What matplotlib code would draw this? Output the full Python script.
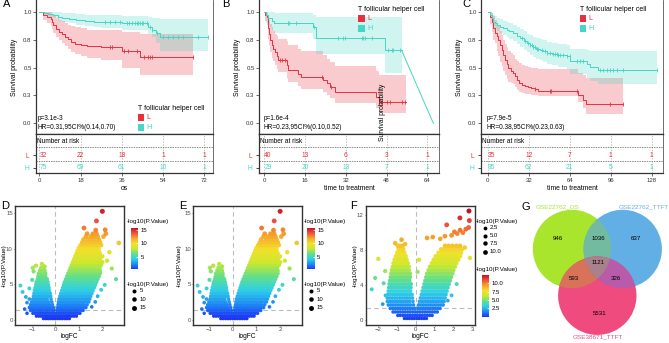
import numpy as np
import matplotlib
matplotlib.use('Agg')
import matplotlib.pyplot as plt
from matplotlib.colors import LinearSegmentedColormap, Normalize
from matplotlib.cm import ScalarMappable
from matplotlib.patches import Circle, Rectangle, Polygon

plt.rcParams['font.family'] = ['Liberation Sans', 'DejaVu Sans']

# =============================================================================
# Kaplan-Meier data (time, survival, 95% band)
# =============================================================================
# A: os
a_l_time = [0, 1.5, 3.5, 5, 5.5, 6, 7.5, 8.5, 10, 11, 12.5, 14, 15.5, 18, 21, 27, 36, 44]
a_l_surv = [1.0, 0.97, 0.95, 0.935, 0.91, 0.88, 0.845, 0.82, 0.80, 0.775, 0.755, 0.73, 0.715, 0.70, 0.69, 0.685, 0.65, 0.595]
a_l_low = [1.0, 0.93, 0.9, 0.875, 0.845, 0.81, 0.77, 0.745, 0.72, 0.69, 0.665, 0.64, 0.625, 0.605, 0.585, 0.565, 0.50, 0.43]
a_l_high = [1.0, 1.0, 1.0, 0.995, 0.98, 0.965, 0.945, 0.93, 0.915, 0.90, 0.885, 0.87, 0.86, 0.85, 0.84, 0.835, 0.815, 0.80]
a_l_end = 67
a_l_cens = [31, 31.8, 37, 38.5, 42.5, 45.5, 47.5, 48.5, 49, 67]
a_h_time = [0, 2, 4, 6, 8, 10, 13, 16, 20, 24, 27, 36, 47.5, 49, 51, 52.5]
a_h_surv = [1.0, 0.99, 0.98, 0.97, 0.955, 0.945, 0.935, 0.925, 0.915, 0.91, 0.905, 0.895, 0.865, 0.84, 0.805, 0.775]
a_h_low = [1.0, 0.97, 0.955, 0.94, 0.92, 0.91, 0.895, 0.88, 0.87, 0.86, 0.855, 0.84, 0.80, 0.77, 0.72, 0.645]
a_h_high = [1.0, 1.0, 1.0, 1.0, 0.995, 0.99, 0.985, 0.98, 0.975, 0.97, 0.97, 0.965, 0.955, 0.945, 0.94, 0.935]
a_h_end = 73.7
a_h_cens = [28.7, 30.8, 33, 35.2, 38.1, 39, 40.4, 41.8, 42.5, 43.2, 44, 44.7, 45.4, 46.9, 48.3, 49,
            51.2, 54.1, 56.3, 58.5, 60.7, 62.8, 69.4, 73.7]
a_ticks = [0, 18, 36, 54, 72]
a_risk_l = [32, 22, 18, 1, 1]
a_risk_h = [75, 69, 61, 10, 1]

# B: time to treatment
b_l_time = [0, 0.3, 0.9, 1.3, 1.6, 2.0, 2.3, 2.9, 3.5, 4.2, 5.0, 5.5, 8.8, 9.4, 13.4, 14.5, 23.2, 24.5, 25.8, 27.8, 44, 45]
b_l_surv = [1.0, 0.975, 0.95, 0.90, 0.85, 0.80, 0.75, 0.70, 0.67, 0.635, 0.60, 0.57, 0.52, 0.48, 0.445, 0.415, 0.39, 0.36, 0.33, 0.28, 0.24, 0.195]
b_l_low = [1.0, 0.92, 0.88, 0.82, 0.76, 0.70, 0.64, 0.59, 0.555, 0.52, 0.49, 0.46, 0.41, 0.37, 0.335, 0.31, 0.28, 0.25, 0.225, 0.18, 0.14, 0.09]
b_l_high = [1.0, 1.0, 1.0, 0.99, 0.96, 0.93, 0.89, 0.86, 0.83, 0.80, 0.78, 0.76, 0.735, 0.70, 0.67, 0.645, 0.61, 0.58, 0.55, 0.51, 0.47, 0.43]
b_l_end = 55.5
b_l_cens = [6.3, 7.0, 8.1, 22.5, 26.2, 45.2, 46, 48, 49.4, 53.9, 55.3]
b_h_time = [0, 0.5, 1.5, 3, 4, 19.2, 20.2, 47.4]
b_h_surv = [1.0, 0.97, 0.945, 0.92, 0.90, 0.86, 0.765, 0.655]
b_h_low = [1.0, 0.9, 0.86, 0.83, 0.81, 0.76, 0.62, 0.455]
b_h_high = [1.0, 1.0, 1.0, 1.0, 0.99, 0.975, 0.955, 0.955]
b_h_end = 53.9
b_h_tail_time = 66.4
b_h_tail_surv = 0.0
b_h_cens = [9.2, 9.8, 12.5, 19.5, 29.1, 31, 31.7, 38.2, 38.9, 39.5, 42.1, 48.7, 50, 50.7, 53.4]
b_ticks = [0, 16, 32, 48, 64]
b_risk_l = [40, 13, 6, 3, 1]
b_risk_h = [29, 20, 13, 7, 1]

# C: time to treatment
c_l_time = [0, 1.8, 3.1, 4.4, 5.7, 7, 8.3, 9.6, 10.9, 12.2, 13.5, 14.8, 16.1, 18, 20, 21.3, 22.6, 24.5, 26.5, 29,
            31.7, 34, 36.9, 39.5, 70.5, 74, 77]
c_l_surv = [1.0, 0.955, 0.91, 0.85, 0.81, 0.78, 0.745, 0.70, 0.66, 0.615, 0.57, 0.53, 0.495, 0.47, 0.45, 0.42, 0.39,
            0.365, 0.345, 0.335, 0.325, 0.315, 0.305, 0.29, 0.25, 0.21, 0.175]
c_l_low = [1.0, 0.89, 0.82, 0.75, 0.72, 0.65, 0.60, 0.55, 0.51, 0.47, 0.43, 0.40, 0.375, 0.36, 0.35, 0.33, 0.30,
           0.285, 0.27, 0.265, 0.26, 0.255, 0.25, 0.245, 0.19, 0.14, 0.085]
c_l_high = [1.0, 1.0, 0.99, 0.96, 0.93, 0.90, 0.87, 0.83, 0.79, 0.75, 0.71, 0.68, 0.65, 0.63, 0.61, 0.58, 0.56,
            0.54, 0.52, 0.51, 0.505, 0.50, 0.495, 0.49, 0.45, 0.43, 0.41]
c_l_end = 105.4
c_l_cens = [37, 48.5, 49.5, 69.5, 95.5, 105.4]
c_h_time = [0, 1.5, 3, 4.4, 6, 7.5, 9.6, 12, 14.8, 17, 20, 22.5, 25.2, 28, 30.4, 33, 35.6, 38, 40.8, 43, 46, 50,
            55, 61.7, 64.3, 77.3, 80, 86.3]
c_h_surv = [1.0, 0.97, 0.94, 0.91, 0.895, 0.88, 0.867, 0.85, 0.837, 0.825, 0.808, 0.785, 0.763, 0.74, 0.719, 0.70,
            0.684, 0.67, 0.659, 0.645, 0.63, 0.62, 0.61, 0.60, 0.555, 0.53, 0.505, 0.475]
c_h_low = [1.0, 0.94, 0.905, 0.87, 0.85, 0.83, 0.81, 0.79, 0.77, 0.755, 0.735, 0.71, 0.685, 0.66, 0.635, 0.615,
           0.595, 0.58, 0.565, 0.55, 0.535, 0.52, 0.505, 0.49, 0.44, 0.41, 0.38, 0.35]
c_h_high = [1.0, 1.0, 0.99, 0.97, 0.96, 0.945, 0.935, 0.92, 0.91, 0.90, 0.885, 0.865, 0.845, 0.825, 0.805, 0.79,
            0.775, 0.765, 0.755, 0.745, 0.73, 0.72, 0.71, 0.70, 0.67, 0.655, 0.65, 0.645]
c_h_end = 131.9
c_h_cens = [26.5, 29.1, 31.7, 33.0, 34.3, 35.6, 36.9, 38.2, 39.5, 42.2, 44.7, 46.1, 48.6, 51.2, 52.5, 53.9, 55.1,
            56.4, 59.0, 61.7, 64.2, 69.5, 72, 74.6, 87.7, 90.2, 92.9, 95.5, 98.0, 100.7, 105.9, 131.9]
c_ticks = [0, 32, 64, 96, 128]
c_risk_l = [35, 12, 7, 1, 1]
c_risk_h = [95, 62, 21, 5, 1]

# =============================================================================
# Volcano data (logFC, -log10 P), rows of points
# D and E show the same genes
# =============================================================================
d_row_y = [0.15, 0.5, 0.9, 1.3, 1.7, 2.1, 2.5, 2.9, 3.3, 3.7, 4.1, 4.5, 4.9, 5.3, 5.7, 6.1, 6.5, 6.9, 7.3,
           7.7, 8.1, 8.5, 8.9, 9.3, 9.7, 10.1, 10.5, 10.9, 11.3, 11.7, 12.1]
d_row_x = [
    [-0.5, -0.4, -0.3, -0.2, -0.1, 0, 0.1, 0.2, 0.3, 0.4, 0.5, 0.6],
    [-0.8, -0.7, -0.6, -0.5, -0.4, -0.3, -0.2, -0.1, 0, 0.1, 0.2, 0.3, 0.4, 0.5, 0.6, 0.7, 0.8, 0.9],
    [-0.95, -0.85, -0.75, -0.65, -0.55, -0.45, -0.35, -0.25, -0.15, -0.05, 0.05, 0.15, 0.25, 0.35, 0.45, 0.55,
     0.65, 0.75, 0.85, 0.95, 1.05],
    [-1.05, -0.95, -0.85, -0.75, -0.65, -0.55, -0.45, -0.35, -0.25, -0.15, -0.05, 0.08, 0.18, 0.28, 0.38, 0.48,
     0.58, 0.68, 0.78, 0.88, 0.98, 1.08, 1.18],
    [-1.1, -1.0, -0.9, -0.8, -0.7, -0.6, -0.5, -0.4, -0.3, -0.2, -0.08, 0.1, 0.2, 0.3, 0.4, 0.5, 0.6, 0.7, 0.8,
     0.9, 1.0, 1.1, 1.2, 1.3],
    [-1.05, -0.95, -0.85, -0.75, -0.65, -0.55, -0.45, -0.35, -0.25, -0.12, 0.12, 0.22, 0.32, 0.42, 0.52, 0.62,
     0.72, 0.82, 0.92, 1.02, 1.12, 1.22, 1.35],
    [-1.0, -0.9, -0.8, -0.7, -0.6, -0.5, -0.4, -0.3, -0.15, 0.14, 0.24, 0.34, 0.44, 0.54, 0.64, 0.74, 0.84,
     0.94, 1.04, 1.14, 1.24, 1.34, 1.42],
    [-1.1, -0.95, -0.85, -0.75, -0.65, -0.55, -0.45, -0.35, -0.18, 0.16, 0.26, 0.36, 0.46, 0.56, 0.66, 0.76,
     0.86, 0.96, 1.06, 1.16, 1.26, 1.36, 1.46],
    [-0.92, -0.82, -0.72, -0.62, -0.52, -0.42, -0.3, -0.2, 0.2, 0.3, 0.4, 0.5, 0.6, 0.7, 0.8, 0.9, 1.0, 1.1,
     1.2, 1.3, 1.4, 1.5],
    [-0.9, -0.8, -0.7, -0.6, -0.5, -0.4, -0.3, -0.22, 0.24, 0.34, 0.44, 0.54, 0.64, 0.74, 0.84, 0.94, 1.04,
     1.14, 1.24, 1.34, 1.44, 1.55],
    [-0.88, -0.78, -0.68, -0.58, -0.48, -0.38, -0.26, 0.28, 0.38, 0.48, 0.58, 0.68, 0.78, 0.88, 0.98, 1.08,
     1.18, 1.28, 1.38, 1.48, 1.6],
    [-0.85, -0.75, -0.65, -0.55, -0.45, -0.35, -0.27, 0.32, 0.42, 0.52, 0.62, 0.72, 0.82, 0.92, 1.02, 1.12,
     1.22, 1.32, 1.42, 1.52, 1.65],
    [-0.82, -0.72, -0.62, -0.52, -0.42, -0.3, 0.36, 0.46, 0.56, 0.66, 0.76, 0.86, 0.96, 1.06, 1.16, 1.26,
     1.36, 1.46, 1.56, 1.7],
    [-0.8, -0.7, -0.6, -0.5, -0.4, -0.32, 0.4, 0.5, 0.6, 0.7, 0.8, 0.9, 1.0, 1.1, 1.2, 1.3, 1.4, 1.5, 1.6, 1.75],
    [-0.75, -0.65, -0.55, -0.45, -0.35, 0.45, 0.55, 0.65, 0.75, 0.85, 0.95, 1.05, 1.15, 1.25, 1.35, 1.45,
     1.55, 1.65, 1.8],
    [-0.72, -0.62, -0.52, -0.42, 0.5, 0.6, 0.7, 0.8, 0.9, 1.0, 1.1, 1.2, 1.3, 1.4, 1.5, 1.6, 1.7, 1.85],
    [-0.7, -0.6, -0.5, -0.42, 0.55, 0.65, 0.75, 0.85, 0.95, 1.05, 1.15, 1.25, 1.35, 1.45, 1.55, 1.65, 1.75, 1.9],
    [-0.65, -0.55, -0.45, 0.6, 0.7, 0.8, 0.9, 1.0, 1.1, 1.2, 1.3, 1.4, 1.5, 1.6, 1.7, 1.8, 1.9],
    [-0.6, -0.48, 0.65, 0.75, 0.85, 0.95, 1.05, 1.15, 1.25, 1.35, 1.45, 1.55, 1.65, 1.75, 1.88],
    [0.7, 0.8, 0.9, 1.0, 1.1, 1.2, 1.3, 1.4, 1.5, 1.6, 1.7, 1.8, 1.95],
    [0.75, 0.85, 0.95, 1.05, 1.15, 1.25, 1.35, 1.45, 1.55, 1.65, 1.75, 1.85, 2.0],
    [0.8, 0.9, 1.0, 1.1, 1.2, 1.3, 1.4, 1.5, 1.6, 1.7, 1.8, 1.9],
    [0.85, 0.95, 1.05, 1.15, 1.25, 1.35, 1.45, 1.55, 1.65, 1.75, 1.85, 2.0],
    [0.9, 1.0, 1.1, 1.2, 1.3, 1.4, 1.5, 1.6, 1.7, 1.8, 1.9],
    [0.95, 1.05, 1.15, 1.25, 1.35, 1.45, 1.55, 1.65, 1.75, 1.85],
    [1.0, 1.12, 1.24, 1.36, 1.48, 1.6, 1.72, 1.84],
    [1.08, 1.22, 1.36, 1.5, 1.64, 1.78, 1.95],
    [1.15, 1.3, 1.45, 1.6, 1.75, 1.9],
    [1.2, 1.4, 1.55, 1.7, 1.85],
    [1.3, 1.5, 1.65, 1.8, 2.05],
    [1.35, 1.6, 1.75, 2.15],
]
d_extra_x = [1.22, 1.72, 2.12, 1.75, 2.0, 2.7, 2.3, 2.2, 2.4, 2.58, 2.1, 1.8, 1.95, 1.7, 1.55,
             -1.48, -1.39, -1.25, -1.2, -1.1, -0.98, -0.92, -0.96, -0.82, -0.57, -0.45, -1.3, -1.2]
d_extra_y = [12.9, 12.6, 12.65, 13.9, 15.25, 10.8, 9.5, 8.3, 7.2, 5.7, 4.9, 3.3, 4.2, 2.5, 1.8,
             4.8, 3.9, 3.2, 2.4, 4.4, 5.6, 6.8, 7.3, 7.6, 7.85, 7.5, 1.5, 0.9]

f_row_y = [0.15, 0.5, 0.9, 1.3, 1.7, 2.1, 2.5, 2.9, 3.3, 3.7, 4.1, 4.5, 4.9, 5.3, 5.7, 6.1, 6.5, 6.9, 7.3,
           7.7, 8.1, 8.5]
f_row_x = [
    [-0.6, -0.47, -0.34, -0.21, -0.08, 0.05, 0.18, 0.31, 0.44, 0.57],
    [-0.95, -0.82, -0.69, -0.56, -0.43, -0.3, -0.17, -0.04, 0.09, 0.22, 0.35, 0.48, 0.61, 0.74, 0.87],
    [-1.2, -1.07, -0.94, -0.81, -0.68, -0.55, -0.42, -0.29, -0.16, -0.03, 0.1, 0.23, 0.36, 0.49, 0.62, 0.75,
     0.88, 1.01, 1.14],
    [-1.35, -1.22, -1.09, -0.96, -0.83, -0.7, -0.57, -0.44, -0.31, -0.18, -0.05, 0.12, 0.25, 0.38, 0.51, 0.64,
     0.77, 0.9, 1.03, 1.16, 1.29],
    [-1.45, -1.32, -1.19, -1.06, -0.93, -0.8, -0.67, -0.54, -0.41, -0.28, -0.12, 0.15, 0.28, 0.41, 0.54, 0.67,
     0.8, 0.93, 1.06, 1.19, 1.32, 1.45],
    [-1.5, -1.37, -1.24, -1.11, -0.98, -0.85, -0.72, -0.59, -0.46, -0.33, -0.15, 0.2, 0.33, 0.46, 0.59, 0.72,
     0.85, 0.98, 1.11, 1.24, 1.37, 1.5],
    [-1.5, -1.37, -1.24, -1.11, -0.98, -0.85, -0.72, -0.59, -0.46, -0.33, -0.18, 0.25, 0.38, 0.51, 0.64, 0.77,
     0.9, 1.03, 1.16, 1.29, 1.42, 1.55],
    [-1.48, -1.35, -1.22, -1.09, -0.96, -0.83, -0.7, -0.57, -0.44, -0.3, -0.2, 0.3, 0.43, 0.56, 0.69, 0.82,
     0.95, 1.08, 1.21, 1.34, 1.47, 1.6],
    [-1.45, -1.32, -1.19, -1.06, -0.93, -0.8, -0.67, -0.54, -0.41, -0.28, 0.35, 0.48, 0.61, 0.74, 0.87, 1.0,
     1.13, 1.26, 1.39, 1.52, 1.65],
    [-1.42, -1.29, -1.16, -1.03, -0.9, -0.77, -0.64, -0.51, -0.38, -0.26, 0.4, 0.53, 0.66, 0.79, 0.92, 1.05,
     1.18, 1.31, 1.44, 1.57, 1.7],
    [-1.4, -1.27, -1.14, -1.01, -0.88, -0.75, -0.62, -0.49, -0.36, -0.25, 0.45, 0.58, 0.71, 0.84, 0.97, 1.1,
     1.23, 1.36, 1.49, 1.62, 1.76],
    [-1.37, -1.24, -1.11, -0.98, -0.85, -0.72, -0.59, -0.46, -0.33, 0.5, 0.63, 0.76, 0.89, 1.02, 1.15, 1.28,
     1.41, 1.54, 1.67, 1.82],
    [-1.33, -1.2, -1.07, -0.94, -0.81, -0.68, -0.55, -0.42, -0.3, 0.55, 0.68, 0.81, 0.94, 1.07, 1.2, 1.33,
     1.46, 1.59, 1.72, 1.88],
    [-1.3, -1.17, -1.04, -0.91, -0.78, -0.65, -0.52, -0.39, -0.3, 0.6, 0.73, 0.86, 0.99, 1.12, 1.25, 1.38,
     1.51, 1.64, 1.77, 1.95],
    [-1.27, -1.14, -1.01, -0.88, -0.75, -0.62, -0.49, -0.36, 0.68, 0.81, 0.94, 1.07, 1.2, 1.33, 1.46, 1.59,
     1.72, 1.85, 2.0],
    [-1.22, -1.09, -0.96, -0.83, -0.7, -0.57, -0.44, -0.36, 0.75, 0.88, 1.01, 1.14, 1.27, 1.4, 1.53, 1.66,
     1.79, 1.92, 2.08],
    [-1.18, -1.05, -0.92, -0.79, -0.66, -0.53, -0.42, 0.85, 0.98, 1.11, 1.24, 1.37, 1.5, 1.63, 1.76, 1.89,
     2.02, 2.15],
    [-1.12, -0.99, -0.86, -0.73, -0.6, -0.48, 0.95, 1.08, 1.21, 1.34, 1.47, 1.6, 1.73, 1.86, 1.99, 2.12, 2.25],
    [-1.05, -0.92, -0.79, -0.66, -0.53, 1.05, 1.18, 1.31, 1.44, 1.57, 1.7, 1.83, 1.96, 2.09, 2.22, 2.35],
    [-0.98, -0.85, -0.72, -0.6, 1.2, 1.35, 1.5, 1.65, 1.8, 1.95, 2.1, 2.25, 2.4],
    [-0.9, -0.78, -0.66, 1.35, 1.5, 1.65, 1.8, 1.95, 2.1, 2.25, 2.45],
    [-0.85, -0.7, 1.55, 1.75, 1.95, 2.15, 2.35],
]
f_extra_x = [-0.75, -0.56, -1.09, -0.95, 0.17, 0.6, 0.9, 1.64, 1.9, 2.05, 2.2, 2.35, 2.5, 2.65, 2.8, 2.34,
             2.84, 2.82, 1.3, 1.55, -2.33, -2.15, -1.98, -1.7, -1.6, -1.75, -1.62, 2.17, 2.87, 2.6, 1.9, 1.7, 0.1]
f_extra_y = [9.2, 8.7, 8.8, 8.5, 6.9, 9.4, 9.5, 10.9, 9.7, 10.1, 9.9, 10.3, 10.0, 10.4, 10.6, 11.7,
             11.4, 12.5, 9.3, 9.6, 3.5, 4.8, 7.0, 4.2, 2.8, 1.8, 5.6, 4.1, 7.1, 8.3, 2.8, 2.2, 5.5]

# =============================================================================
# Venn data
# =============================================================================
venn_names = ['GSE22762_OS', 'GSE22762_TTFT', 'GSE38671_TTFT']
venn_only = [946, 637, 5531]          # OS only, TTFT(22762) only, TTFT(38671) only
venn_pairs = [1036, 593, 326]         # OS&22762TTFT, OS&38671, 22762TTFT&38671
venn_all = 1121

# =============================================================================
W, H = 669, 343
RED = '#E8303F'
CYAN = '#45D6C6'
DARK = '#333333'

fig = plt.figure(figsize=(W / 100, H / 100), dpi=100)


def px_axes(l, t, r, b):
    return fig.add_axes([l / W, 1 - b / H, (r - l) / W, (b - t) / H])


def draw_curve(ax, t, s, lo, hi, end, cens, col):
    te = list(t) + [end]
    ax.fill_between(te, list(lo) + [lo[-1]], list(hi) + [hi[-1]], step='post',
                    color=col, alpha=0.25, lw=0)
    ax.step(te, list(s) + [s[-1]], where='post', color=col, lw=0.7)
    idx = np.searchsorted(t, cens, side='right') - 1
    ax.plot(cens, np.array(s)[idx], ls='none', marker='|', ms=3.2, mew=0.6, color=col)


def km_panel(left, right, xlim, ticks, risk_l, risk_h, xlabel):
    ax = px_axes(left, 0, right, 134)
    ax.set_xlim(xlim)
    ax.set_ylim(-0.095, 1.105)
    ax.set_xticks([])
    ax.set_yticks([0, 0.25, 0.5, 0.75, 1.0])
    ax.set_yticklabels(['0.0', '0.3', '0.5', '0.8', '1.0'])
    ax.tick_params(axis='y', length=2, width=0.5, labelsize=4.3, pad=1.2, colors=DARK)
    ax.spines['top'].set_visible(False)
    for sp in ax.spines.values():
        sp.set_linewidth(0.9)
        sp.set_color(DARK)
    ax.spines['right'].set_linewidth(0.5)
    ax.set_ylabel('Survival probability', fontsize=4.9, labelpad=4)

    axr = px_axes(left, 134, right, 173)
    axr.set_xlim(xlim)
    axr.set_ylim(0, 1)
    for x in ticks:
        axr.axvline(x, color='#AAAAAA', ls=(0, (2, 2)), lw=0.5)
    axr.axhline(0.667, color='#555555', ls=(0, (2, 1.5)), lw=0.5)
    axr.axhline(0.315, color='#555555', ls=(0, (2, 1.5)), lw=0.5)
    axr.text(0.005, 0.80, 'Number at risk', transform=axr.transAxes, fontsize=4.7,
             va='center', ha='left')
    for i, (x, nl, nh) in enumerate(zip(ticks, risk_l, risk_h)):
        ha = 'left' if i == 0 else 'center'
        axr.text(x, 0.46, str(nl), color=RED, fontsize=4.8, ha=ha, va='center')
        axr.text(x, 0.137, str(nh), color=CYAN, fontsize=4.8, ha=ha, va='center')
    axr.set_xticks(ticks)
    axr.set_yticks([0.46, 0.137])
    axr.set_yticklabels(['L', 'H'])
    for lab, col in zip(axr.get_yticklabels(), [RED, CYAN]):
        lab.set_color(col)
    axr.tick_params(axis='y', length=2, width=0.5, labelsize=4.8, pad=3)
    axr.tick_params(axis='x', length=2, width=0.5, labelsize=4.3, pad=1.5, colors=DARK)
    for sp in axr.spines.values():
        sp.set_linewidth(0.9)
        sp.set_color(DARK)
    axr.spines['right'].set_linewidth(0.5)
    axr.set_xlabel(xlabel, fontsize=4.9, labelpad=1.5)
    return ax


ax_a = km_panel(36, 213, (-1.44, 75.8), a_ticks, a_risk_l, a_risk_h, 'os')
draw_curve(ax_a, a_l_time, a_l_surv, a_l_low, a_l_high, a_l_end, a_l_cens, RED)
draw_curve(ax_a, a_h_time, a_h_surv, a_h_low, a_h_high, a_h_end, a_h_cens, CYAN)

ax_b = km_panel(259, 439, (-2.08, 68.6), b_ticks, b_risk_l, b_risk_h, 'time to treatment')
draw_curve(ax_b, b_l_time, b_l_surv, b_l_low, b_l_high, b_l_end, b_l_cens, RED)
draw_curve(ax_b, b_h_time, b_h_surv, b_h_low, b_h_high, b_h_end, b_h_cens, CYAN)
ax_b.plot([b_h_end, b_h_tail_time], [b_h_surv[-1], b_h_tail_surv], color=CYAN, lw=0.7)

ax_c = km_panel(481, 663, (-5.23, 136.8), c_ticks, c_risk_l, c_risk_h, 'time to treatment')
draw_curve(ax_c, c_l_time, c_l_surv, c_l_low, c_l_high, c_l_end, c_l_cens, RED)
draw_curve(ax_c, c_h_time, c_h_surv, c_h_low, c_h_high, c_h_end, c_h_cens, CYAN)

# =============================================================================
# volcano plots
# =============================================================================
cmap = LinearSegmentedColormap.from_list('vol', ['#1C35F2', '#1E8BF5', '#2ED0E6', '#62DF8A', '#CBE82E',
                                                 '#F2E02B', '#F7A32B', '#F0503A', '#C0102A'])


def flat_points(row_y, row_x, ex_x, ex_y):
    xs = np.concatenate([np.array(r, float) for r in row_x] + [np.array(ex_x, float)])
    ys = np.concatenate([np.full(len(r), y) for y, r in zip(row_y, row_x)] + [np.array(ex_y, float)])
    o = np.argsort(ys)
    return xs[o], ys[o]


d_x, d_y = flat_points(d_row_y, d_row_x, d_extra_x, d_extra_y)
f_x, f_y = flat_points(f_row_y, f_row_x, f_extra_x, f_extra_y)


def volcano(l, r, xs, ys, xlim, ylim, xticks, yticks, norm, sk, ylab_x):
    ax = px_axes(l, 206, r, 325)
    ax.axvline(0, color='#BBBBBB', ls=(0, (4, 3)), lw=0.8, zorder=1)
    ax.axhline(1.3, color='#BBBBBB', ls=(0, (4, 3)), lw=0.8, zorder=1)
    ax.scatter(xs, ys, c=ys, cmap=cmap, norm=norm, s=sk(ys), lw=0, zorder=2)
    ax.set_xlim(xlim)
    ax.set_ylim(ylim)
    ax.set_xticks(xticks)
    ax.set_yticks(yticks)
    ax.tick_params(length=1.0, width=0.5, labelsize=4.3, pad=0.6, colors='#4D4D4D')
    for sp in ax.spines.values():
        sp.set_linewidth(1.0)
        sp.set_color(DARK)
    ax.set_xlabel('logFC', fontsize=4.8, labelpad=0.5)
    ax.set_ylabel('-log10(P.Value)', fontsize=4.6)
    ax.yaxis.set_label_coords((ylab_x - l) / (r - l), 0.5)
    return ax


d_norm = Normalize(0.3, 15.8)
f_norm = Normalize(0.0, 12.5)
d_size = lambda v: 6.0 + 0.45 * np.asarray(v)
f_size = lambda v: 6.0 + 0.55 * np.asarray(v)

volcano(15, 124, d_x, d_y, (-1.71, 2.92), (-0.75, 16.0), [-1, 0, 1, 2], [0, 5, 10, 15], d_norm, d_size, 6.5)
volcano(193.3, 301.7, d_x, d_y, (-1.66, 2.91), (-0.75, 16.0), [-1, 0, 1, 2], [0, 5, 10, 15], d_norm, d_size,
        182)
volcano(365.7, 475, f_x, f_y, (-2.65, 3.14), (-0.6, 13.07), [-2, -1, 0, 1, 2, 3], [0, 4, 8, 12], f_norm, f_size,
        357.5)


def colorbar(l, t, r, b, norm, ticks, labels):
    cax = px_axes(l, t, r, b)
    cb = fig.colorbar(ScalarMappable(norm=norm, cmap=cmap), cax=cax)
    cb.outline.set_visible(False)
    cb.set_ticks(ticks)
    cb.set_ticklabels(labels)
    cax.tick_params(length=1.8, width=0.5, color='white', direction='in', labelsize=4.3, pad=1.5)


colorbar(130.7, 227.7, 138.3, 269.3, d_norm, [5, 10, 15], ['5', '10', '15'])
colorbar(307.3, 227.7, 315, 269.3, d_norm, [5, 10, 15], ['5', '10', '15'])
colorbar(481.7, 275, 489.5, 316.7, f_norm, [2.5, 5, 7.5, 10], ['2.5', '5.0', '7.5', '10.0'])

# overlay in pixel units for text, legends and the Venn diagram
ov = fig.add_axes([0, 0, 1, 1])
ov.set_xlim(0, W)
ov.set_ylim(H, 0)
ov.axis('off')

for x, y, s in [(3, 4, 'A'), (222, 4, 'B'), (462, 4, 'C'), (1, 206, 'D'), (179, 206, 'E'),
                (350, 206, 'F'), (522, 207, 'G')]:
    ov.text(x, y, s, fontsize=8, ha='left', va='center')

# KM annotations and legends
for x, p, hr in [(38, 'p=3.1e-3', 'HR=0.31,95CI%(0.14,0.70)'),
                 (264, 'p=1.6e-4', 'HR=0.23,95CI%(0.10,0.52)'),
                 (486.5, 'p=7.9e-5', 'HR=0.38,95CI%(0.23,0.63)')]:
    ov.text(x, 118.3, p, fontsize=4.7, va='center', ha='left')
    ov.text(x, 127.3, hr, fontsize=4.7, va='center', ha='left')

for x, y in [(138, 108.3), (358.3, 9.3), (580, 9.3)]:
    ov.text(x, y, 'T follicular helper cell', fontsize=5.0, va='center', ha='left')
    for k, (lab, col) in enumerate([('L', RED), ('H', CYAN)]):
        yy = y + 9 + 10 * k
        ov.add_patch(Rectangle((x - 0.3, yy - 3.3), 6.6, 6.6, color=col, lw=0))
        ov.text(x + 8.6, yy, lab, color=col, fontsize=5.2, va='center', ha='left')

ov.text(382, 112, 'Survival probability', fontsize=4.9, rotation=90, ha='center', va='center')

# volcano legends
for x0 in [126.7, 303.3]:
    ov.text(x0, 221, '-log10(P.Value)', fontsize=4.5, va='center', ha='left')
    ov.text(x0, 284.3, '-log10(P.Value)', fontsize=4.5, va='center', ha='left')
    for v, yy in zip([5, 10, 15], [291, 299.3, 307.7]):
        ov.scatter([x0 + 7.6], [yy], s=d_size(v), color='black', lw=0)
        ov.text(x0 + 13.3, yy, str(v), fontsize=4.3, va='center', ha='left')
ov.text(476, 221.7, '-log10(P.Value)', fontsize=4.5, va='center', ha='left')
ov.text(476, 269.3, '-log10(P.Value)', fontsize=4.5, va='center', ha='left')
for v, lab, yy in zip([2.5, 5, 7.5, 10], ['2.5', '5.0', '7.5', '10.0'], [227.7, 235.7, 243.3, 251.7]):
    ov.scatter([485], [yy], s=f_size(v), color='black', lw=0)
    ov.text(490, yy, lab, fontsize=4.3, va='center', ha='left')

# Venn diagram
g_c, b_c, p_c = (572, 249), (622.7, 249), (597.3, 295.7)
rad = 39.2
g_col, b_col, p_col = '#A9E52D', '#62AFE6', '#EF4B7E'
gb_col, gp_col, bp_col, gbp_col = '#73BBA0', '#D8735A', '#B85BA8', '#A8818A'

ov.add_patch(Circle(g_c, rad, color=g_col, lw=0, zorder=1))
ov.add_patch(Circle(b_c, rad, color=b_col, lw=0, zorder=2))
pb = Circle(b_c, rad, color=gb_col, lw=0, zorder=3)
ov.add_patch(pb)
pb.set_clip_path(Circle(g_c, rad, transform=ov.transData))
ov.add_patch(Circle(p_c, rad, color=p_col, lw=0, zorder=4))
pg = Circle(p_c, rad, color=gp_col, lw=0, zorder=5)
ov.add_patch(pg)
pg.set_clip_path(Circle(g_c, rad, transform=ov.transData))
pbb = Circle(p_c, rad, color=bp_col, lw=0, zorder=6)
ov.add_patch(pbb)
pbb.set_clip_path(Circle(b_c, rad, transform=ov.transData))
th = np.arccos((b_c[0] - g_c[0]) / (2 * rad))
ang = np.linspace(-th, th, 60)
lens = np.vstack([np.column_stack([g_c[0] + rad * np.cos(ang), g_c[1] + rad * np.sin(ang)]),
                  np.column_stack([b_c[0] - rad * np.cos(ang[::-1]), b_c[1] + rad * np.sin(ang[::-1])])])
pl = Polygon(lens, closed=True, color=gbp_col, lw=0, zorder=7)
ov.add_patch(pl)
pl.set_clip_path(Circle(p_c, rad, transform=ov.transData))

ov.text(558, 207.3, venn_names[0], color=g_col, fontsize=4.6, ha='center', va='center')
ov.text(644, 207.3, venn_names[1], color=b_col, fontsize=4.6, ha='center', va='center')
ov.text(597.5, 336.7, venn_names[2], color=p_col, fontsize=4.6, ha='center', va='center')
for (x, y), n in zip([(558.3, 238.3), (636, 238.3), (599.3, 313.3)], venn_only):
    ov.text(x, y, str(n), fontsize=4.4, ha='center', va='center', zorder=10)
for (x, y), n in zip([(598.3, 238.3), (574.3, 278.3), (616, 278.3)], venn_pairs):
    ov.text(x, y, str(n), fontsize=4.4, ha='center', va='center', zorder=10)
ov.text(598.3, 262.7, str(venn_all), fontsize=4.4, ha='center', va='center', zorder=10)

fig.savefig('out.png', dpi=100)
